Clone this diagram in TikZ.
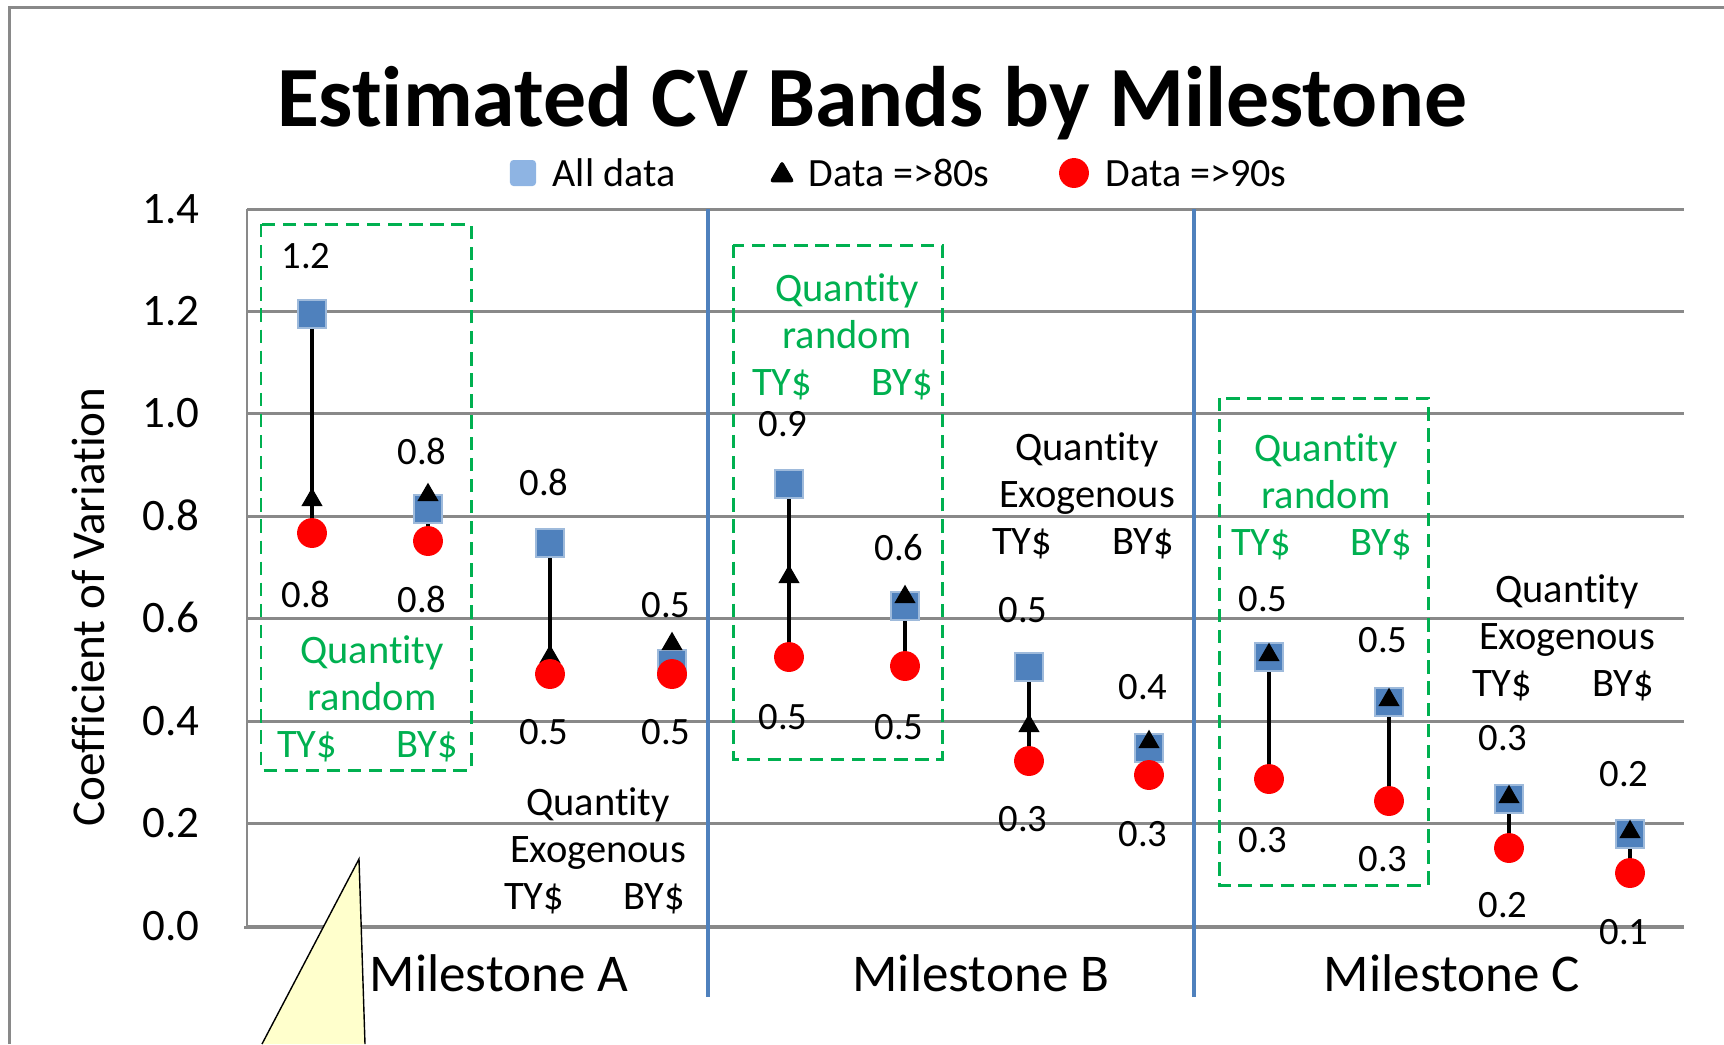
\documentclass[tikz,border=0pt]{standalone}
\usepackage{fontspec}
\setmainfont{Carlito}[Ligatures={CommonOff,ContextualOff}, RawFeature={-liga;-clig;-calt;-dlig}]
\usepackage{tikz}
\usetikzlibrary{shapes.geometric}
\usepackage{xcolor}
\definecolor{gridgray}{RGB}{137,137,137}
\definecolor{sepblue}{RGB}{79,129,189}
\definecolor{alldata}{RGB}{79,129,189}
\definecolor{legendblue}{RGB}{142,180,227}
\definecolor{qgreen}{RGB}{0,176,80}
\definecolor{calloutyellow}{RGB}{255,255,204}

\pgfdeclarelayer{grid}
\pgfdeclarelayer{links}
\pgfsetlayers{grid,links,main}

\begin{document}
\begin{tikzpicture}[x=0.01cm, y=-0.01cm,
    gridline/.style={gridgray, line width=0.85pt},
    sepline/.style={sepblue, line width=1pt},
    allsq/.style={rectangle, fill=alldata, draw=alldata!55!white, line width=0.6pt,
        minimum size=8pt, inner sep=0pt},
    tri80/.style={regular polygon, regular polygon sides=3, fill=black,
        minimum size=7pt, inner sep=0pt},
    dot90/.style={circle, fill=red, minimum size=8.5pt, inner sep=0pt},
    hilo/.style={black, line width=1.1pt},
    qbox/.style={qgreen, line width=0.85pt, dash pattern=on 3.8pt off 2.2pt},
    vlabel/.style={font=\fontsize{11pt}{13pt}\selectfont, inner sep=0pt},
    qtext/.style={font=\fontsize{11.5pt}{13pt}\selectfont, anchor=base, inner sep=0pt},
    ticklabel/.style={font=\fontsize{12.8pt}{15pt}\selectfont, anchor=base east, inner sep=0pt},
    legtext/.style={font=\fontsize{11.4pt}{13pt}\selectfont, anchor=base west, inner sep=0pt},
    milestone/.style={font=\fontsize{15.1pt}{18pt}\selectfont, anchor=base, inner sep=0pt}]
    \useasboundingbox (0,0) rectangle (1724,1044);

    % Outer frame (cut at right and bottom)
    \draw[gridgray, line width=0.85pt] (9.5,1044) -- (9.5,7) -- (1724,7);

    % Title and legend
    \node[font=\fontsize{24.4pt}{28pt}\selectfont\bfseries, anchor=base, inner sep=0pt]
        (title) at (872,126) {Estimated CV Bands by Milestone};
    \node[rectangle, fill=legendblue, rounded corners=1pt, minimum size=7.4pt, inner sep=0pt]
        (legsq) at (523,173) {};
    \node[legtext] (legall) at (552,186) {All data};
    \node[tri80, minimum size=8.4pt, rounded corners=1pt] (legtr) at (782,175) {};
    \node[legtext] (leg80) at (808,186) {Data =>80s};
    \node[dot90] (legci) at (1074,173) {};
    \node[legtext] (leg90) at (1105,186) {Data =>90s};

    % Grid and axes
    \begin{pgfonlayer}{grid}
        \foreach \y/\v [count=\k] in {209/1.4, 311.4/1.2, 413.8/1.0, 516.3/0.8,
                                      618.7/0.6, 721.1/0.4, 823.6/0.2, 926/0.0} {
            \draw[gridline] (247,\y) -- (1684,\y);
            \node[ticklabel] (tick\k) at (200,\y+14) {\v};
        }
        \draw[gridline] (247,209) -- (247,926);
        \draw[gridline] (244,927) -- (1684,927);
    \end{pgfonlayer}
    \node[font=\fontsize{13.4pt}{16pt}\selectfont, rotate=90, inner sep=0pt]
        (ytitle) at (88,607) {Coefficient of Variation};

    % Milestone separators
    \draw[sepline] (708,209) -- (708,997);
    \draw[sepline] (1194,209) -- (1194,997);

    % Dashed boxes round the "quantity random" pairs
    \draw[qbox] (261,224) rectangle (471,770);
    \draw[qbox] (733,245) rectangle (942,759);
    \draw[qbox] (1219,398) rectangle (1428,885);

    % Bands: all data, =>80s, =>90s, with value labels
    \foreach \i/\x/\s/\t/\c/\ha/\hy/\la/\ly in {
        1/312/314/500/533/1.2/256/0.8/594,
        2/428/509/495/541/0.8/451/0.8/599,
        3/550/543/657/674/0.8/482/0.5/732,
        4/672/664/644/674/0.5/605/0.5/732,
        5/789/484/577/657/0.9/424/0.5/717,
        6/905/606/597/666/0.6/548/0.5/727,
        7/1029/667/726/761/0.5/610/0.3/819,
        8/1149/748/742/775/0.4/687/0.3/834,
        9/1269/657/655/779/0.5/599/0.3/840,
        10/1389/702/700/801/0.5/640/0.3/859,
        11/1509/799/797/848/0.3/738/0.2/905,
        12/1630/834/832/873/0.2/774/0.1/932} {
        \node[allsq] (sq\i) at (\x,\s) {};
        \node[tri80] (tr\i) at (\x,\t) {};
        \node[dot90] (ci\i) at (\x,\c) {};
        \begin{pgfonlayer}{links}
            \draw[hilo] (sq\i.center) -- (ci\i.center);
            \draw[hilo] (tr\i.center) -- (ci\i.center);
        \end{pgfonlayer}
        \node[vlabel] (hi\i) at (\x-6,\hy) {\ha};
        \node[vlabel] (lo\i) at (\x-6,\ly) {\la};
    }

    % Quantity random (green)
    \foreach \m/\xq/\yq/\xt/\xb in {A/372/663/307/427, B/847/301/782/902, C/1326/461/1261/1381} {
        \node[qtext, qgreen] (qr\m) at (\xq,\yq) {Quantity};
        \node[qtext, qgreen] (rd\m) at (\xq,\yq+47) {random};
        \node[qtext, qgreen] (tyr\m) at (\xt,\yq+94) {TY\$};
        \node[qtext, qgreen] (byr\m) at (\xb,\yq+94) {BY\$};
    }

    % Quantity exogenous
    \foreach \m/\xq/\yq/\xt/\xb in {A/598/815/534/654, B/1087/460/1022/1143, C/1567/602/1502/1623} {
        \node[qtext] (qe\m) at (\xq,\yq) {Quantity};
        \node[qtext] (ex\m) at (\xq,\yq+47) {Exogenous};
        \node[qtext] (tye\m) at (\xt,\yq+94) {TY\$};
        \node[qtext] (bye\m) at (\xb,\yq+94) {BY\$};
    }

    % Milestone names
    \node[milestone] (msA) at (499,991) {Milestone A};
    \node[milestone] (msB) at (981,991) {Milestone B};
    \node[milestone] (msC) at (1452,991) {Milestone C};

    % Callout
    \fill[calloutyellow] (262,1044) -- (359,859) -- (365,1044) -- cycle;
    \draw[black, line width=0.4pt] (262,1044) -- (359,859) -- (365,1044);
\end{tikzpicture}
\end{document}
